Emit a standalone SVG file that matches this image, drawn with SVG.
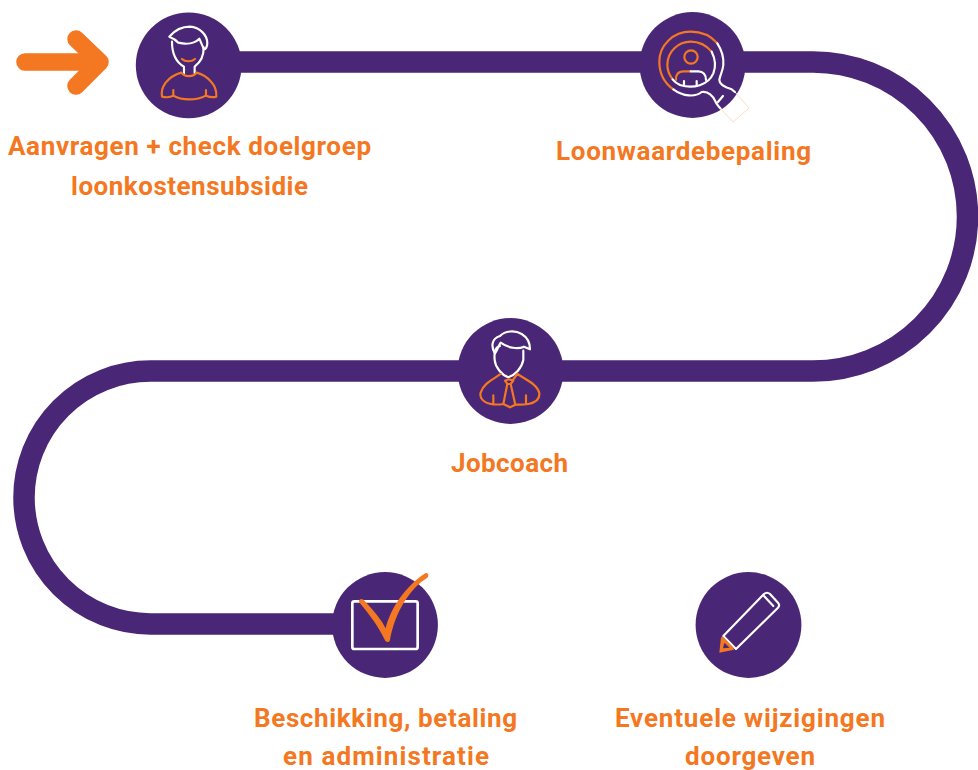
<svg xmlns="http://www.w3.org/2000/svg" width="978" height="770" viewBox="0 0 978 770">
<style>
.p{fill:#4a2776}
.w{fill:none;stroke:#fff;stroke-width:6.500;stroke-linecap:round;stroke-linejoin:round}
.o{fill:none;stroke:#f47721;stroke-width:6.500;stroke-linecap:round;stroke-linejoin:round}
.t{font-family:"Roboto","Liberation Sans",sans-serif;font-weight:700;font-size:26px;fill:#f47721}
</style>
<rect width="978" height="770" fill="#fff"/>
<g id="connectors">
<path d="M189 62H813A154.500 154.500 0 0 1 813 371H150.500A126.500 126.500 0 0 0 150.500 624H385" fill="none" stroke="#4a2776" stroke-width="21.500"/>
</g>
<g id="start-arrow">
<path d="M25 62H100M76 39L100 62L76 86" fill="none" stroke="#f47721" stroke-width="17.500" stroke-linecap="round" stroke-linejoin="round"/>
</g>
<g id="node-aanvragen">
<circle class="p" cx="188.700" cy="65.300" r="52.900"/>
<g transform="scale(.3333)">
<path class="w" d="M516 125C516 160 528 186 552 200V220M611 142C612 170 600 188 584 200V220"/>
<path class="w" d="M508 110C525 90 545 80 570 80C600 82 622 105 622 130C622 142 616 148 612 148L598 116C585 130 560 134 535 128C528 120 518 114 508 110Z"/>
<path class="o" d="M546 177C555 186 575 186 585 177"/>
<path class="o" d="M544 218C530 222 510 232 497 248C487 262 484 280 486 290C500 293 512 292 520 287C545 302 590 302 618 287C630 292 640 293 649 290C650 275 645 258 634 246C622 232 605 222 590 218C580 232 555 232 544 218ZM520 270V287M618 270V287"/>
</g>
</g>
<g id="node-loonwaarde">
<circle class="p" cx="692.500" cy="65" r="52.900"/>
<g transform="translate(630 0) scale(.3333)">
<path d="M315 276L357 324L309 366L270 324" fill="none" stroke="#fbdcc8" stroke-width="3"/>
<path class="o" d="M262 130C240 105 212 95 182 95C130 95 88 135 88 185C88 220 105 250 130 268"/>
<path class="w" d="M262 130C275 150 282 170 280 195C278 215 270 225 268 240C268 255 285 262 305 268L315 276"/>
<path class="w" d="M130 268C160 290 195 292 215 276C235 272 250 290 255 302C258 312 265 318 272 326M264 306L279 288"/>
<path class="o" d="M245 155C228 135 205 125 182 125C145 125 112 155 112 195C112 210 118 225 128 238"/>
<path class="w" d="M245 155C255 175 258 200 250 220C235 255 190 268 150 255C140 250 133 245 128 238"/>
<circle class="o" cx="183" cy="171" r="20"/>
<path class="o" d="M182 214H160C145 214 136 225 138 240"/>
<path class="w" d="M182 214H205C220 214 228 225 228 240M162 243V257M200 243V257"/>
</g>
</g>
<g id="node-jobcoach">
<circle class="p" cx="510.500" cy="371" r="52.900"/>
<g transform="translate(450 310) scale(.3333)">
<path class="w" d="M150 108C135 112 132 125 134 150C136 172 155 195 175 202C195 195 215 175 220 150V122"/>
<path class="w" d="M135 130C122 110 125 85 150 78C165 62 195 60 215 72C232 82 240 100 240 118L222 110C205 118 175 115 152 98C145 108 143 118 135 130Z"/>
<path class="o" d="M152 192C130 208 100 220 92 248C88 262 98 280 130 283C140 284 150 284 160 282L172 222L165 212L176 208L190 212L182 222L196 284C210 284 225 284 235 282C255 278 270 270 268 250C262 222 225 208 202 192L190 208M130 256V283M228 256V283"/>
<path class="o" d="M172 222H182M160 282L180 292L196 284"/>
</g>
</g>
<g id="node-beschikking">
<circle class="p" cx="385" cy="625" r="52.900"/>
<g transform="translate(320 565) scale(.3333)">
<rect x="97" y="109" width="196" height="143" rx="6" fill="none" stroke="#fff" stroke-width="8"/>
<path d="M119 104C124 100 130 103 134 108C160 135 185 165 197 190C212 130 255 65 316 25C323 21 329 33 322 38C270 70 225 140 210 225C208 233 198 233 195 226C178 190 150 150 120 115C116 110 116 107 119 104Z" fill="#f47721"/>
</g>
</g>
<g id="node-wijzigingen">
<circle class="p" cx="748.500" cy="625" r="52.900"/>
<g transform="translate(690 565) scale(.3333)">
<path class="w" d="M100 213L222 87C228 82 234 82 240 87L264 113C268 118 268 124 264 128L138 252Z" stroke-width="8"/>
<path class="w" d="M222 93L250 123" stroke-width="7"/>
<path d="M93 217L100 216L129 247L132 254L88 263ZM103 233L99 250L119 248Z" fill="#f47721"/>
</g>
</g>
<g id="labels">
<text class="t" x="8" y="155" textLength="363" lengthAdjust="spacing">Aanvragen + check doelgroep</text>
<text class="t" x="71" y="195" textLength="237" lengthAdjust="spacing">loonkostensubsidie</text>
<text class="t" x="556" y="160" textLength="255" lengthAdjust="spacing">Loonwaardebepaling</text>
<text class="t" x="451" y="472" textLength="117" lengthAdjust="spacing">Jobcoach</text>
<text class="t" x="254" y="727" textLength="263" lengthAdjust="spacing">Beschikking, betaling</text>
<text class="t" x="283" y="765" textLength="206" lengthAdjust="spacing">en administratie</text>
<text class="t" x="615" y="727" textLength="270" lengthAdjust="spacing">Eventuele wijzigingen</text>
<text class="t" x="685" y="765" textLength="130" lengthAdjust="spacing">doorgeven</text>
</g>
</svg>
